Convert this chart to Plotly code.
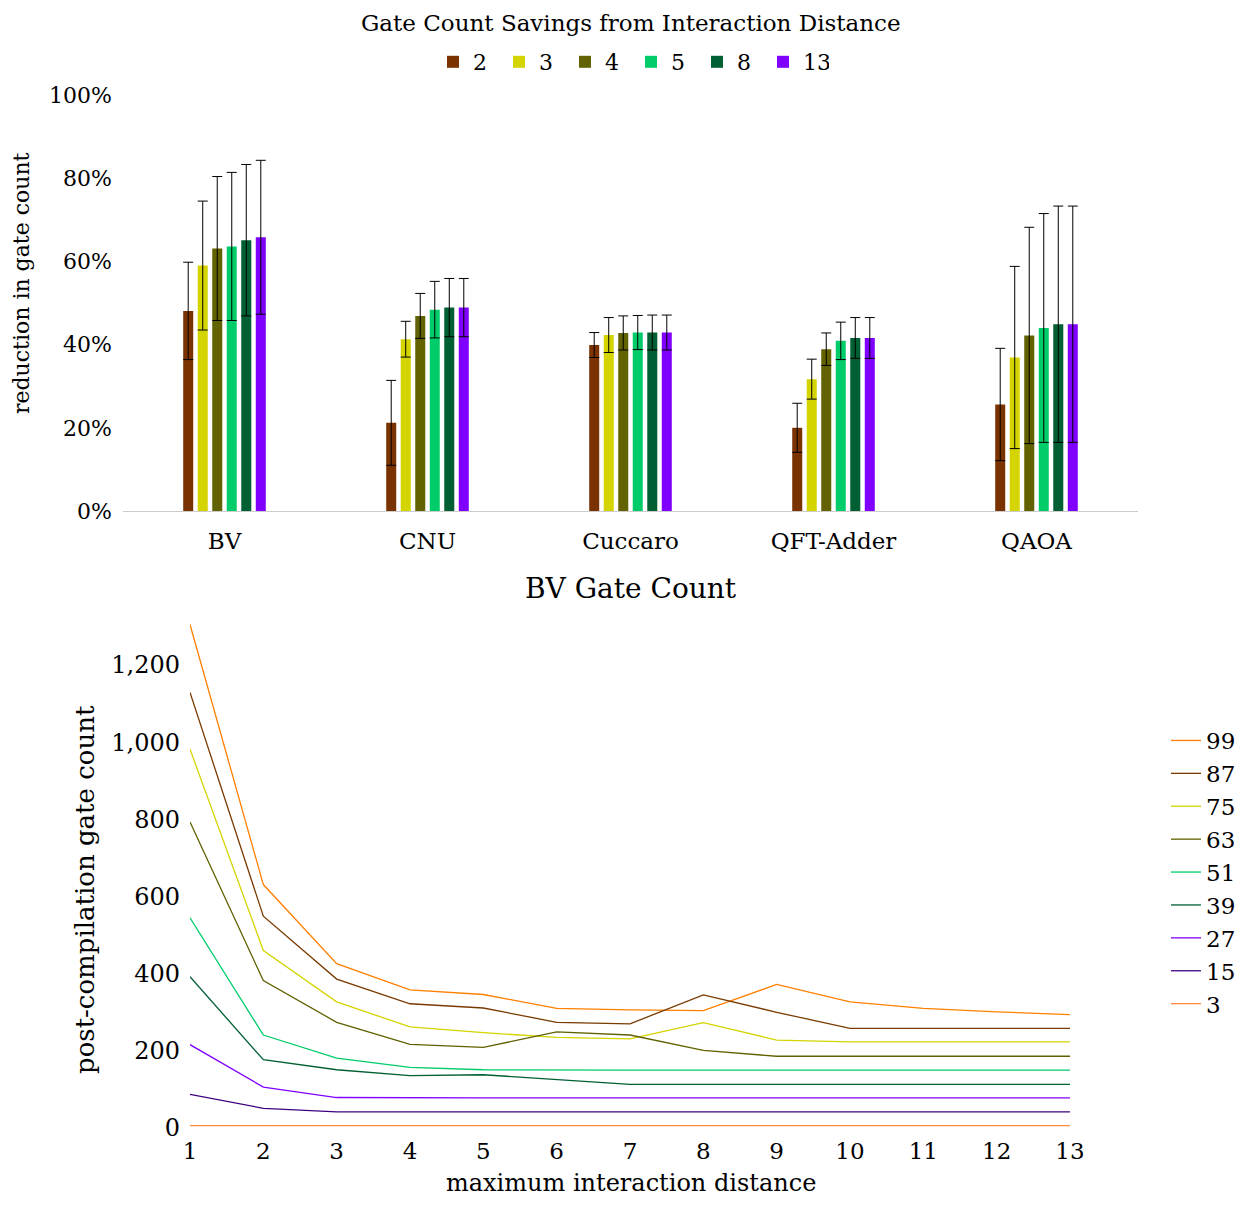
import plotly.graph_objects as go

# ---------------- Top chart data ----------------
benchmarks = ["BV", "CNU", "Cuccaro", "QFT-Adder", "QAOA"]
distance_labels = ["2", "3", "4", "5", "8", "13"]

red_d2 = [48.1, 21.2, 39.9, 20.0, 25.6]
red_d3 = [59.0, 41.3, 42.3, 31.7, 36.9]
red_d4 = [63.1, 46.9, 42.8, 38.9, 42.2]
red_d5 = [63.6, 48.4, 42.9, 40.9, 44.0]
red_d8 = [65.1, 48.9, 42.9, 41.6, 44.9]
red_d13 = [65.8, 48.9, 42.9, 41.6, 44.9]

err_d2 = [11.7, 10.2, 3.0, 5.9, 13.5]
err_d3 = [15.5, 4.3, 4.2, 4.8, 21.9]
err_d4 = [17.3, 5.4, 4.1, 3.9, 26.0]
err_d5 = [17.8, 6.8, 4.1, 4.5, 27.5]
err_d8 = [18.2, 7.0, 4.2, 4.9, 28.4]
err_d13 = [18.5, 7.0, 4.2, 4.9, 28.4]

pct_ticks = [0, 20, 40, 60, 80, 100]
pct_labels = ["0%", "20%", "40%", "60%", "80%", "100%"]

# ---------------- Bottom chart data ----------------
max_distance = [1, 2, 3, 4, 5, 6, 7, 8, 9, 10, 11, 12, 13]
qubit_labels = ["99", "87", "75", "63", "51", "39", "27", "15", "3"]

gates_q99 = [1305, 631, 426, 358, 346, 310, 306, 304, 372, 327, 310, 301, 294]
gates_q87 = [1129, 549, 386, 322, 311, 274, 270, 345, 300, 258, 258, 258, 258]
gates_q75 = [982, 460, 327, 262, 247, 235, 231, 273, 228, 223, 223, 223, 223]
gates_q63 = [793, 382, 274, 217, 209, 249, 241, 201, 186, 186, 186, 186, 186]
gates_q51 = [545, 241, 181, 157, 151, 150, 150, 150, 150, 150, 150, 150, 150]
gates_q39 = [392, 177, 151, 136, 138, 126, 113, 113, 113, 113, 113, 113, 113]
gates_q27 = [216, 106, 79, 78, 78, 78, 78, 78, 78, 78, 78, 78, 78]
gates_q15 = [87, 51, 42, 42, 42, 42, 42, 42, 42, 42, 42, 42, 42]
gates_q3 = [6, 6, 6, 6, 6, 6, 6, 6, 6, 6, 6, 6, 6]

gate_ticks = [0, 200, 400, 600, 800, 1000, 1200]

# ---------------- Styling ----------------
PAGE_MARGIN = 8                      # default body margin of the page
W, H = 1250 - 2 * PAGE_MARGIN, 1207 - 2 * PAGE_MARGIN
FONT = "DejaVu Serif"
bar_colors = ["#7a3300", "#d4d400", "#626200", "#00cc6a", "#005f33", "#8000ff"]
line_colors = ["#ff7f00", "#7a3a00", "#d4d400", "#606000", "#00cc6a",
               "#005f33", "#8000ff", "#3f0080", "#ff8a3d"]

def px_x(p):
    return (p - PAGE_MARGIN) / W

def px_y(p):
    return 1 - (p - PAGE_MARGIN) / H

fig = go.Figure()

reds = [red_d2, red_d3, red_d4, red_d5, red_d8, red_d13]
errs = [err_d2, err_d3, err_d4, err_d5, err_d8, err_d13]
for lab, vals, e, c in zip(distance_labels, reds, errs, bar_colors):
    fig.add_trace(go.Bar(
        x=benchmarks, y=vals, name=lab, marker=dict(color=c, line=dict(width=0)),
        error_y=dict(type="data", array=e, visible=True, color="black",
                     thickness=1, width=5),
        xaxis="x", yaxis="y", legend="legend",
    ))

gates = [gates_q99, gates_q87, gates_q75, gates_q63, gates_q51,
         gates_q39, gates_q27, gates_q15, gates_q3]
for lab, vals, c in zip(qubit_labels, gates, line_colors):
    fig.add_trace(go.Scatter(
        x=max_distance, y=vals, name=lab, mode="lines",
        line=dict(color=c, width=1.3), cliponaxis=False,
        xaxis="x2", yaxis="y2", legend="legend2",
    ))

fig.update_layout(
    width=W, height=H,
    margin=dict(l=0, r=0, t=0, b=0, autoexpand=False),
    paper_bgcolor="white", plot_bgcolor="white",
    font=dict(family=FONT, color="black", size=22),
    barmode="group", bargap=0.571, bargroupgap=0.31,
    showlegend=True,
    xaxis=dict(
        domain=[px_x(123), px_x(1138)], anchor="y",
        range=[-0.5, 4.5], showgrid=False, zeroline=False,
        showline=True, linecolor="#cccccc", linewidth=1,
        ticks="", tickfont=dict(size=23, family=FONT), ticklabelstandoff=9,
    ),
    yaxis=dict(
        domain=[px_y(511), px_y(95)], anchor="x",
        range=[0, 100], tickvals=pct_ticks, ticktext=pct_labels,
        showgrid=False, zeroline=False, showline=False, ticks="",
        tickfont=dict(size=22, family=FONT), ticklabelstandoff=10,
    ),
    xaxis2=dict(
        domain=[px_x(190), px_x(1070)], anchor="y2",
        range=[1, 13], tickvals=max_distance, showgrid=False, zeroline=False,
        showline=False, ticks="", tickfont=dict(size=23, family=FONT),
        ticklabelstandoff=7,
    ),
    yaxis2=dict(
        domain=[px_y(1128), px_y(622.6)], anchor="x2",
        range=[0, 1310], tickvals=gate_ticks, tickformat=",d",
        showgrid=False, zeroline=False, showline=False, ticks="",
        tickfont=dict(size=24, family=FONT), ticklabelstandoff=9,
    ),
    legend=dict(
        orientation="h", x=px_x(631), xanchor="center", y=px_y(62), yanchor="middle",
        font=dict(size=22, family=FONT), bgcolor="rgba(0,0,0,0)",
        entrywidth=21, entrywidthmode="pixels",
    ),
    legend2=dict(
        orientation="v", x=px_x(1166), xanchor="left", y=px_y(719), yanchor="top",
        font=dict(size=23, family=FONT), bgcolor="rgba(0,0,0,0)",
        tracegroupgap=0,
    ),
    annotations=[
        dict(text="Gate Count Savings from Interaction Distance", x=px_x(631), y=1,
             xref="paper", yref="paper", showarrow=False, font=dict(size=23, family=FONT),
             xanchor="center", yanchor="top"),
        dict(text="reduction in gate count", x=px_x(22), y=px_y(283),
             xref="paper", yref="paper", showarrow=False, textangle=-90,
             font=dict(size=22, family=FONT), xanchor="center", yanchor="middle"),
        dict(text="BV Gate Count", x=px_x(631), y=px_y(588),
             xref="paper", yref="paper", showarrow=False, font=dict(size=28, family=FONT),
             xanchor="center", yanchor="middle"),
        dict(text="post-compilation gate count", x=px_x(85), y=px_y(890),
             xref="paper", yref="paper", showarrow=False, textangle=-90,
             font=dict(size=26, family=FONT), xanchor="center", yanchor="middle"),
        dict(text="maximum interaction distance", x=px_x(631), y=px_y(1199),
             xref="paper", yref="paper", showarrow=False, font=dict(size=24, family=FONT),
             xanchor="center", yanchor="bottom"),
    ],
)

fig.write_html("out.html")
